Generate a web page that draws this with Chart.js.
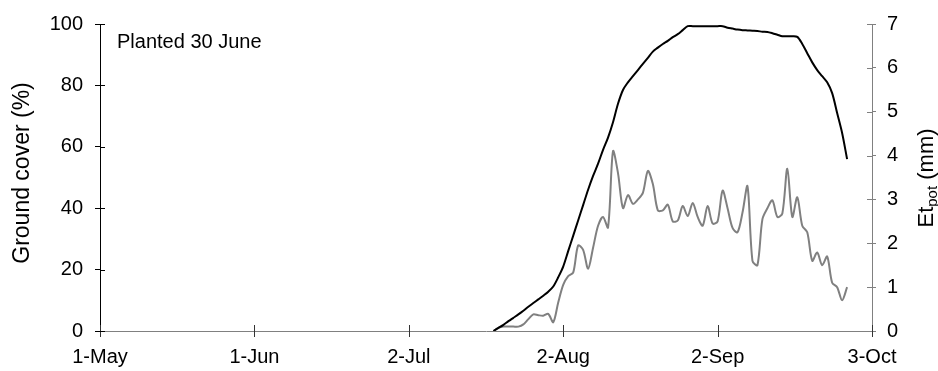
<!DOCTYPE html>
<html>
<head>
<meta charset="utf-8">
<script src="https://cdn.jsdelivr.net/npm/chart.js@4.4.0/dist/chart.umd.min.js"></script>
<style>
  html, body { margin: 0; padding: 0; background: #fff; }
  #wrap { width: 938px; height: 371px; }
</style>
</head>
<body>
<div id="wrap"><canvas id="grafico"></canvas></div>
<script>
// days counted from 1 May
const tickDays = [0, 31, 62, 93, 124, 155];
const tickLabels = ["1-May", "1-Jun", "2-Jul", "2-Aug", "2-Sep", "3-Oct"];

const days = [];
for (let d = 79; d <= 150; d++) days.push(d);

// ground cover (%), left axis
const groundCover = [
  0, 1, 2, 3.2, 4.3, 5.4, 6.6, 7.9, 9.1, 10.3,
  11.5, 12.8, 14.5, 17.5, 21, 26, 31, 36, 41, 46,
  50.5, 54.5, 59, 63, 68, 74, 78.5, 81, 83, 85,
  87, 89, 91, 92.3, 93.5, 94.5, 95.7, 96.7, 98, 99.3,
  99.3, 99.3, 99.3, 99.3, 99.3, 99.3, 99.3, 98.8, 98.5, 98.2,
  98, 97.9, 97.8, 97.7, 97.5, 97.4, 97, 96.5, 96, 96,
  96, 95.8, 93.5, 90.5, 87.5, 85, 83, 81, 77.5, 71,
  64.5, 56
];

// Et pot (mm), right axis
const etPot = [
  0, 0.07, 0.1, 0.1, 0.1, 0.1, 0.15, 0.27, 0.38, 0.36,
  0.35, 0.39, 0.2, 0.65, 1.05, 1.25, 1.33, 1.95, 1.85, 1.42,
  1.9, 2.4, 2.6, 2.36, 4.1, 3.6, 2.8, 3.1, 2.9, 3.0,
  3.15, 3.65, 3.35, 2.75, 2.75, 2.88, 2.5, 2.52, 2.85, 2.62,
  2.92, 2.6, 2.4, 2.85, 2.45, 2.5, 3.2, 2.8, 2.35, 2.25,
  2.7, 3.3, 1.6, 1.5, 2.55, 2.8, 2.98, 2.6, 2.68, 3.7,
  2.6, 3.05, 2.4, 2.25, 1.6, 1.79, 1.5, 1.7, 1.1, 1.0,
  0.7, 1.0
];

const FONTE = "'Liberation Sans', Arial, sans-serif";

// inner half of the crossing tick marks, axis titles and the note
const extras = {
  id: "extras",
  afterDraw(chart) {
    const ctx = chart.ctx;
    const area = chart.chartArea;
    const x = chart.scales.x;
    const y = chart.scales.y;
    const y2 = chart.scales.y2;
    ctx.save();
    ctx.lineWidth = 1;
    ctx.strokeStyle = "#333";
    ctx.beginPath();
    tickDays.forEach(d => {
      const px = Math.round(x.getPixelForValue(d)) + 0.5;
      ctx.moveTo(px, area.bottom - 6);
      ctx.lineTo(px, area.bottom + 6);
    });
    ctx.stroke();
    ctx.strokeStyle = "#000";
    ctx.beginPath();
    for (let v = 0; v <= 100; v += 20) {
      const py = Math.round(y.getPixelForValue(v)) + 0.5;
      ctx.moveTo(area.left, py);
      ctx.lineTo(area.left + 5, py);
    }
    ctx.stroke();
    ctx.strokeStyle = "#808080";
    ctx.beginPath();
    for (let v = 0; v <= 7; v++) {
      const py = Math.round(y2.getPixelForValue(v)) + 0.5;
      ctx.moveTo(area.right - 5, py);
      ctx.lineTo(area.right, py);
    }
    ctx.stroke();

    ctx.fillStyle = "#000";
    ctx.font = "20px " + FONTE;
    ctx.textAlign = "left";
    ctx.textBaseline = "alphabetic";
    ctx.fillText("Planted 30 June", 117, 48);

    // left title
    ctx.save();
    ctx.translate(29, 173);
    ctx.rotate(-Math.PI / 2);
    ctx.font = "23px " + FONTE;
    ctx.textAlign = "center";
    ctx.fillText("Ground cover (%)", 0, 0);
    ctx.restore();

    // right title with subscript
    ctx.save();
    ctx.translate(933, 178);
    ctx.rotate(-Math.PI / 2);
    ctx.textAlign = "left";
    ctx.font = "22px " + FONTE;
    const wEt = ctx.measureText("Et").width;
    ctx.font = "15px " + FONTE;
    const wPot = ctx.measureText("pot").width;
    ctx.font = "22px " + FONTE;
    const wMm = ctx.measureText(" (mm)").width;
    let sx = -(wEt + wPot + wMm) / 2;
    ctx.fillText("Et", sx, 0);
    sx += wEt;
    ctx.font = "15px " + FONTE;
    ctx.fillText("pot", sx, 4);
    sx += wPot;
    ctx.font = "22px " + FONTE;
    ctx.fillText(" (mm)", sx, 0);
    ctx.restore();

    ctx.restore();
  }
};

const ctx = document.getElementById("grafico").getContext("2d");
new Chart(ctx, {
  type: "line",
  data: {
    datasets: [
      {
        label: "Ground cover",
        data: days.map((d, i) => ({ x: d, y: groundCover[i] })),
        borderColor: "#000",
        borderWidth: 2,
        pointRadius: 0,
        tension: 0.3,
        yAxisID: "y"
      },
      {
        label: "Et pot",
        data: days.map((d, i) => ({ x: d, y: etPot[i] })),
        borderColor: "#808080",
        borderWidth: 2,
        pointRadius: 0,
        tension: 0.3,
        yAxisID: "y2"
      }
    ]
  },
  options: {
    responsive: true,
    maintainAspectRatio: false,
    animation: false,
    layout: { padding: { top: 24, left: 0, right: 0, bottom: 0 } },
    plugins: {
      legend: { display: false },
      tooltip: { enabled: false }
    },
    scales: {
      x: {
        type: "linear",
        min: 0,
        max: 155,
        afterBuildTicks: s => { s.ticks = tickDays.map(v => ({ value: v })); },
        afterFit: s => { s.height = 40; },
        grid: { display: false },
        border: { display: true, color: "#808080", width: 1 },
        ticks: {
          autoSkip: false,
          maxRotation: 0,
          padding: 6,
          color: "#000",
          font: { family: FONTE, size: 20 },
          callback: v => tickLabels[tickDays.indexOf(v)]
        }
      },
      y: {
        position: "left",
        min: 0,
        max: 100,
        afterFit: s => { s.width = 100; },
        grid: { drawOnChartArea: false, tickLength: 5, color: "#000" },
        border: { display: true, color: "#000", width: 1 },
        ticks: {
          stepSize: 20,
          padding: 12,
          color: "#000",
          font: { family: FONTE, size: 20 }
        }
      },
      y2: {
        position: "right",
        min: 0,
        max: 7,
        afterFit: s => { s.width = 66; },
        grid: { display: true, drawOnChartArea: false, tickLength: 4, color: "#808080" },
        border: { display: true, color: "#808080", width: 1 },
        ticks: {
          stepSize: 1,
          padding: 11,
          color: "#000",
          font: { family: FONTE, size: 20 }
        }
      }
    }
  },
  plugins: [extras]
});
</script>
</body>
</html>
